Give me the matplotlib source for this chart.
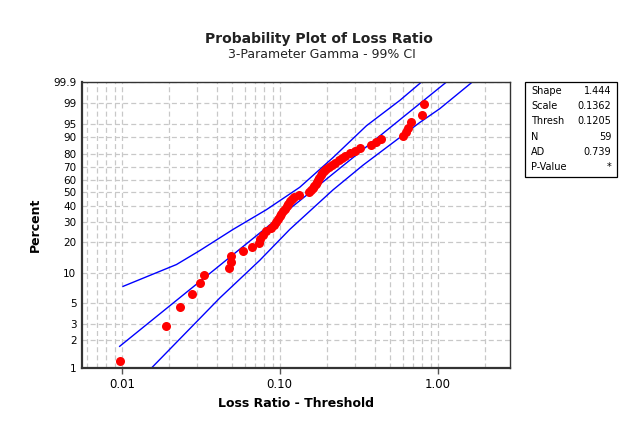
import math
import numpy as np
import matplotlib
matplotlib.use("Agg")
import matplotlib.pyplot as plt
from matplotlib.patches import Rectangle
from matplotlib.ticker import FixedLocator, FixedFormatter, LogLocator, NullFormatter

# DATA

shape = 1.444

loss_ratio = [0.00971, 0.01918, 0.02352, 0.02786, 0.03117, 0.03318, 0.04777, 0.04919,
              0.04947, 0.05857, 0.06679, 0.07364, 0.07471, 0.07783, 0.08226, 0.08770,
              0.09204, 0.09489, 0.09728, 0.09970, 0.1022, 0.1048, 0.1076, 0.1106,
              0.1136, 0.1167, 0.1195, 0.1237, 0.1319, 0.1526, 0.1571, 0.1618,
              0.1654, 0.1690, 0.1720, 0.1753, 0.1784, 0.1823, 0.1864, 0.1905,
              0.1961, 0.2042, 0.2143, 0.2245, 0.2356, 0.2469, 0.2602, 0.2803,
              0.2984, 0.3243, 0.3805, 0.4093, 0.4357, 0.6031, 0.6273, 0.6486,
              0.6747, 0.7955, 0.8191]
percent = [1.18, 2.86, 4.55, 6.23, 7.91, 9.60, 11.28, 12.96, 14.65, 16.33, 18.01, 19.70,
           21.38, 23.06, 24.75, 26.43, 28.11, 29.80, 31.48, 33.16, 34.85, 36.53, 38.22,
           39.90, 41.58, 43.27, 44.95, 46.63, 48.32, 50.00, 51.68, 53.37, 55.05, 56.73,
           58.42, 60.10, 61.78, 63.47, 65.15, 66.84, 68.52, 70.20, 71.89, 73.57, 75.25,
           76.94, 78.62, 80.30, 81.99, 83.67, 85.35, 87.04, 88.72, 90.40, 92.09, 93.77,
           95.45, 97.14, 98.82]

fit_x = [0.0097, 1.135]
fit_pct = [1.72, 99.9]

upper_x = [0.01019, 0.01500, 0.02220, 0.03117, 0.05064, 0.08237, 0.1338, 0.2175,
           0.3538, 0.5748, 0.7885]
upper_pct = [7.38, 9.5, 12.2, 16.6, 25.8, 37.5, 54.0, 77.3, 94.4, 99.18, 99.9]

lower_x = [0.01542, 0.0417, 0.07471, 0.1157, 0.2175, 0.3366, 0.7691, 1.03, 1.654]
lower_pct = [1.0, 5.6, 13.4, 25.8, 52.0, 71.6, 95.4, 98.3, 99.9]

stat_names = ["Shape", "Scale", "Thresh", "N", "AD", "P-Value"]
stat_values = ["1.444", "0.1362", "0.1205", "59", "0.739", "*"]

y_ticks = [1, 2, 3, 5, 10, 20, 30, 40, 50, 60, 70, 80, 90, 95, 99, 99.9]
y_labels = ["1", "2", "3", "5", "10", "20", "30", "40", "50", "60", "70", "80",
            "90", "95", "99", "99.9"]
x_ticks = [0.01, 0.1, 1.0]
x_labels = ["0.01", "0.10", "1.00"]

# GAMMA PROBABILITY SCALE

def gamma_cdf(x):
    x = np.clip(np.asarray(x, dtype=float), 1e-12, 60.0)
    term = np.ones_like(x)
    total = np.ones_like(x)
    for n in range(1, 220):
        term = term * x / (shape + n)
        total = total + term
    return np.exp(-x + shape * np.log(x) - math.lgamma(shape + 1)) * total

def pct_to_axis(p):
    p = np.clip(np.asarray(p, dtype=float) / 100.0, 1e-9, 1 - 1e-9)
    lo = np.full_like(p, -10.0)
    hi = np.full_like(p, 1.7)
    for _ in range(55):
        mid = (lo + hi) / 2
        below = gamma_cdf(10 ** mid) < p
        lo = np.where(below, mid, lo)
        hi = np.where(below, hi, mid)
    return (lo + hi) / 2

def axis_to_pct(v):
    v = np.clip(np.asarray(v, dtype=float), -10.0, 1.7)
    return 100.0 * gamma_cdf(10 ** v)

# PLOT

fig = plt.figure(figsize=(6.21, 4.23), dpi=100)
ax = fig.add_axes([0.132, 0.130, 0.689, 0.676])

ax.set_xscale("log")
ax.set_yscale("function", functions=(pct_to_axis, axis_to_pct))
ax.set_xlim(0.0056, 2.86)
ax.set_ylim(1, 99.9)

grid_kw = dict(color="#c8c8c8", linestyle=(0, (4, 2.5)), linewidth=0.9)
ax.xaxis.set_major_locator(FixedLocator(x_ticks))
ax.xaxis.set_major_formatter(FixedFormatter(x_labels))
ax.xaxis.set_minor_locator(LogLocator(base=10, subs=np.arange(2, 10)))
ax.xaxis.set_minor_formatter(NullFormatter())
ax.yaxis.set_major_locator(FixedLocator(y_ticks))
ax.yaxis.set_major_formatter(FixedFormatter(y_labels))
ax.yaxis.set_minor_locator(FixedLocator([]))
ax.grid(True, which="major", axis="both", **grid_kw)
ax.grid(True, which="minor", axis="x", **grid_kw)
ax.set_axisbelow(True)

ax.plot(fit_x, fit_pct, color="blue", lw=1.0)
ax.plot(upper_x, upper_pct, color="blue", lw=1.0)
ax.plot(lower_x, lower_pct, color="blue", lw=1.0)
ax.plot(loss_ratio, percent, "o", color="red", markersize=6.5, markeredgewidth=0)

ax.tick_params(axis="x", which="major", length=4, width=1, labelsize=8.5, color="#555555")
ax.tick_params(axis="x", which="minor", length=0)
ax.tick_params(axis="y", which="major", length=0, labelsize=7.5, pad=4)
for s in ax.spines.values():
    s.set_color("#333333")
    s.set_linewidth(1.0)
ax.spines["left"].set_linewidth(1.6)
ax.spines["bottom"].set_linewidth(1.6)

ax.set_xlabel("Loss Ratio - Threshold", fontsize=9, fontweight="bold", labelpad=4)
ax.set_ylabel("Percent", fontsize=9, fontweight="bold", labelpad=8)

fig.text(0.513, 0.908, "Probability Plot of Loss Ratio", ha="center", va="center",
         fontsize=10, fontweight="bold", color="#222222")
fig.text(0.518, 0.871, "3-Parameter Gamma - 99% CI", ha="center", va="center",
         fontsize=9, color="#222222")

# statistics box
fig.patches.append(Rectangle((0.8454, 0.5816), 0.1482, 0.2245, transform=fig.transFigure,
                             fill=False, edgecolor="black", linewidth=0.9))
for i, (name, val) in enumerate(zip(stat_names, stat_values)):
    yy = 1 - (91 + i * 15.2) / 423
    fig.text(0.855, yy, name, ha="left", va="center", fontsize=7)
    fig.text(0.984, yy, val, ha="right", va="center", fontsize=7)

fig.savefig("out.png", dpi=100)
